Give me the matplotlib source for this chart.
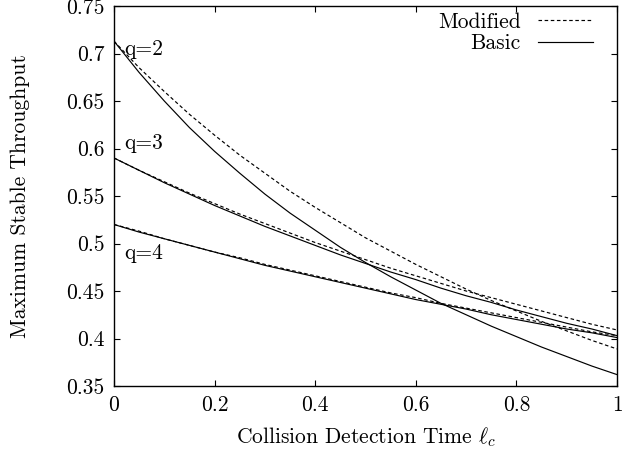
import matplotlib
matplotlib.use("Agg")
import matplotlib.pyplot as plt
from matplotlib.lines import Line2D

plt.rcParams['font.family'] = ['cmr10', 'DejaVu Serif']
plt.rcParams['mathtext.fontset'] = 'cm'
plt.rcParams['axes.formatter.use_mathtext'] = True

lc = [0.00, 0.05, 0.10, 0.15, 0.20, 0.25, 0.30, 0.35, 0.40, 0.45, 0.50,
      0.55, 0.60, 0.65, 0.70, 0.75, 0.80, 0.85, 0.90, 0.95, 1.00]

q2_basic = [0.713, 0.680, 0.650, 0.622, 0.597, 0.574, 0.552, 0.532, 0.514, 0.496, 0.480,
            0.465, 0.451, 0.437, 0.425, 0.413, 0.402, 0.391, 0.381, 0.371, 0.362]
q2_modified = [0.713, 0.685, 0.660, 0.636, 0.614, 0.593, 0.574, 0.555, 0.538, 0.522, 0.506,
               0.492, 0.478, 0.465, 0.452, 0.440, 0.429, 0.418, 0.408, 0.398, 0.389]
q3_basic = [0.590, 0.577, 0.564, 0.552, 0.540, 0.529, 0.518, 0.508, 0.498, 0.488, 0.479,
            0.470, 0.462, 0.453, 0.445, 0.438, 0.430, 0.423, 0.416, 0.410, 0.403]
q3_modified = [0.590, 0.577, 0.565, 0.553, 0.542, 0.531, 0.521, 0.511, 0.501, 0.492, 0.483,
               0.474, 0.466, 0.458, 0.450, 0.443, 0.436, 0.429, 0.422, 0.415, 0.409]
q4_basic = [0.520, 0.512, 0.505, 0.498, 0.491, 0.484, 0.477, 0.471, 0.465, 0.459, 0.453,
            0.447, 0.441, 0.436, 0.431, 0.425, 0.420, 0.415, 0.410, 0.406, 0.401]
q4_modified = [0.520, 0.513, 0.505, 0.498, 0.491, 0.485, 0.478, 0.472, 0.466, 0.460, 0.454,
               0.448, 0.443, 0.437, 0.432, 0.427, 0.422, 0.417, 0.412, 0.407, 0.403]

q_labels = ["q=2", "q=3", "q=4"]
q_label_pos = [(0.02, 0.705), (0.02, 0.606), (0.02, 0.490)]

x_ticks = [0, 0.2, 0.4, 0.6, 0.8, 1]
x_tick_labels = ["0", "0.2", "0.4", "0.6", "0.8", "1"]
y_ticks = [0.35, 0.4, 0.45, 0.5, 0.55, 0.6, 0.65, 0.7, 0.75]
y_tick_labels = ["0.35", "0.4", "0.45", "0.5", "0.55", "0.6", "0.65", "0.7", "0.75"]

FS = 15.5

fig = plt.figure(figsize=(6.24, 4.5), dpi=100)
ax = fig.add_axes([114/624, 64/450, 503/624, 380/450])

dash = (0, (3.0, 2.2))
lw = 0.85
for ys in [q2_modified, q3_modified, q4_modified]:
    ax.plot(lc, ys, color='black', lw=lw, linestyle=dash)
for ys in [q2_basic, q3_basic, q4_basic]:
    ax.plot(lc, ys, color='black', lw=lw, linestyle='-')

for lab, (xx, yy) in zip(q_labels, q_label_pos):
    ax.text(xx, yy, lab, fontsize=FS, ha='left', va='center')

ax.set_xlim(0, 1)
ax.set_ylim(0.35, 0.75)
ax.set_xticks(x_ticks)
ax.set_xticklabels(x_tick_labels)
ax.set_yticks(y_ticks)
ax.set_yticklabels(y_tick_labels)
ax.tick_params(direction='in', length=4, width=0.8, top=True, right=True, labelsize=FS, pad=7)
for s in ax.spines.values():
    s.set_linewidth(1.0)

ax.set_xlabel(r"Collision Detection Time $\ell_c$", fontsize=FS, labelpad=7)
ax.set_ylabel("Maximum Stable Throughput", fontsize=FS, labelpad=26)

handles = [Line2D([], [], color='black', lw=lw, linestyle=dash),
           Line2D([], [], color='black', lw=lw, linestyle='-')]
leg = ax.legend(handles, ["Modified", "Basic"], loc='upper right', frameon=False,
                markerfirst=False, fontsize=FS, handlelength=2.55, handletextpad=0.8,
                labelspacing=0.1, borderaxespad=0.0, borderpad=0.0,
                bbox_to_anchor=(593/624, 438/450), bbox_transform=fig.transFigure)
for t in leg.get_texts():
    t.set_ha('right')

fig.savefig("out.png", dpi=100)
